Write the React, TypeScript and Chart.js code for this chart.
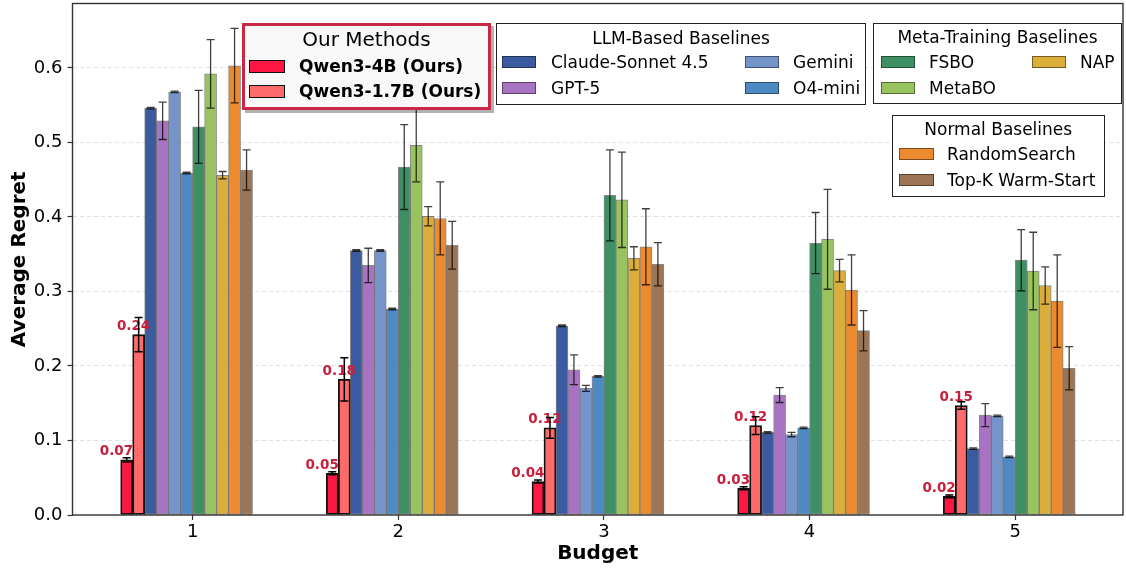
import React, { useEffect, useRef } from 'react';
import { Chart, registerables } from 'chart.js';

Chart.register(...registerables);

// ---------------- data ----------------
const budgets = [1, 2, 3, 4, 5];
const methodNames = [
  'Qwen3-4B (Ours)', 'Qwen3-1.7B (Ours)', 'Claude-Sonnet 4.5', 'GPT-5', 'Gemini', 'O4-mini',
  'FSBO', 'MetaBO', 'NAP', 'RandomSearch', 'Top-K Warm-Start',
];
const methodColors = [
  '#ff1744', '#ff6b6b', '#3c5a9f', '#a873c3', '#7594c9', '#4f89c4',
  '#3f8f64', '#98c35e', '#dbae3c', '#eb8a2f', '#9b7555',
];

const qwen4bMean = [0.074, 0.056, 0.045, 0.036, 0.025];
const qwen4bErr = [0.003, 0.002, 0.002, 0.002, 0.002];
const qwen4bLabels = ['0.07', '0.05', '0.04', '0.03', '0.02'];
const qwen17bMean = [0.242, 0.182, 0.117, 0.12, 0.147];
const qwen17bErr = [0.023, 0.029, 0.014, 0.012, 0.005];
const qwen17bLabels = ['0.24', '0.18', '0.12', '0.12', '0.15'];
const claudeMean = [0.546, 0.355, 0.254, 0.111, 0.089];
const claudeErr = [0.001, 0.001, 0.001, 0.001, 0.001];
const gpt5Mean = [0.529, 0.335, 0.195, 0.161, 0.134];
const gpt5Err = [0.025, 0.023, 0.02, 0.01, 0.0155];
const geminiMean = [0.568, 0.355, 0.17, 0.108, 0.133];
const geminiErr = [0.001, 0.001, 0.004, 0.003, 0.001];
const o4miniMean = [0.459, 0.2765, 0.186, 0.117, 0.078];
const o4miniErr = [0.001, 0.001, 0.001, 0.001, 0.001];
const fsboMean = [0.521, 0.467, 0.429, 0.365, 0.342];
const fsboErr = [0.049, 0.057, 0.061, 0.041, 0.041];
const metaboMean = [0.592, 0.496, 0.423, 0.37, 0.3275];
const metaboErr = [0.046, 0.049, 0.064, 0.067, 0.052];
const napMean = [0.456, 0.401, 0.3445, 0.328, 0.308];
const napErr = [0.005, 0.013, 0.0155, 0.015, 0.025];
const randomMean = [0.603, 0.398, 0.36, 0.302, 0.287];
const randomErr = [0.05, 0.049, 0.051, 0.047, 0.062];
const topkMean = [0.463, 0.362, 0.3365, 0.2474, 0.197];
const topkErr = [0.027, 0.032, 0.029, 0.027, 0.029];

const yTicks = [0, 0.1, 0.2, 0.3, 0.4, 0.5, 0.6];

const seriesMeans = [qwen4bMean, qwen17bMean, claudeMean, gpt5Mean, geminiMean, o4miniMean,
  fsboMean, metaboMean, napMean, randomMean, topkMean];
const seriesErrs = [qwen4bErr, qwen17bErr, claudeErr, gpt5Err, geminiErr, o4miniErr,
  fsboErr, metaboErr, napErr, randomErr, topkErr];
const seriesLabels = [qwen4bLabels, qwen17bLabels];

const BAR_W = 0.0583;
const X_MIN = 0.416;
const X_MAX = 5.524;
const Y_MAX = 0.6865;

const FONT = '"DejaVu Sans", "Liberation Sans", sans-serif';
const LABEL_RED = '#c8203c';

// ---------------- plugins ----------------
const overlayPlugin = {
  id: 'overlay',
  afterDatasetsDraw(chart: any) {
    const ctx = chart.ctx;
    const ys = chart.scales.y;
    // value labels for our methods
    ctx.save();
    ctx.font = `bold 13.5px ${FONT}`;
    ctx.fillStyle = LABEL_RED;
    ctx.textAlign = 'center';
    ctx.textBaseline = 'middle';
    const shift = [0.85, 0.42];
    [0, 1].forEach((i) => {
      const meta = chart.getDatasetMeta(i);
      meta.data.forEach((bar: any, j: number) => {
        ctx.fillText(seriesLabels[i][j], bar.x - shift[i] * bar.width, bar.y - 8);
      });
    });
    ctx.restore();
    // error bars
    chart.data.datasets.forEach((_ds: any, i: number) => {
      const meta = chart.getDatasetMeta(i);
      meta.data.forEach((bar: any, j: number) => {
        const v = seriesMeans[i][j];
        const e = seriesErrs[i][j];
        const yt = ys.getPixelForValue(v + e);
        const yb = ys.getPixelForValue(v - e);
        const x = bar.x;
        ctx.save();
        ctx.strokeStyle = i < 2 ? '#000' : 'rgba(0,0,0,0.75)';
        ctx.lineWidth = i < 2 ? 1.5 : 1.3;
        ctx.beginPath();
        ctx.moveTo(x, yt); ctx.lineTo(x, yb);
        ctx.moveTo(x - 4, yt); ctx.lineTo(x + 4, yt);
        ctx.moveTo(x - 4, yb); ctx.lineTo(x + 4, yb);
        ctx.stroke();
        ctx.restore();
      });
    });
    // frame
    const a = chart.chartArea;
    ctx.save();
    ctx.strokeStyle = '#333';
    ctx.lineWidth = 1.4;
    ctx.strokeRect(a.left, a.top, a.right - a.left, a.bottom - a.top);
    ctx.restore();
  },
};

// ---------------- legend pieces ----------------
const Box = ({ l, t, r, b, style }: any) => (
  <div style={{ position: 'absolute', left: l, top: t, width: r - l, height: b - t, boxSizing: 'border-box', ...style }} />
);
const Patch = ({ l, cy, w, h, color, border }: any) => (
  <div style={{ position: 'absolute', left: l, top: cy - h / 2, width: w, height: h, background: color, border, boxSizing: 'border-box' }} />
);
const Txt = ({ l, cy, text, size, bold }: any) => (
  <div style={{ position: 'absolute', left: l, top: cy - 10, lineHeight: '20px', fontSize: size, fontWeight: bold ? 'bold' : 'normal', whiteSpace: 'nowrap', color: '#000' }}>{text}</div>
);
const Title = ({ l, r, cy, text, size }: any) => (
  <div style={{ position: 'absolute', left: l, width: r - l, top: cy - 12, lineHeight: '24px', fontSize: size, textAlign: 'center', whiteSpace: 'nowrap', color: '#000' }}>{text}</div>
);

const baseBorder = '1px solid rgba(0,0,0,0.45)';

export default function App() {
  const canvasRef = useRef<HTMLCanvasElement>(null);

  useEffect(() => {
    if (!canvasRef.current) return;
    Chart.defaults.font.family = FONT;
    Chart.defaults.color = '#000';
    const datasets = methodNames.map((name, i) => ({
      label: name,
      data: budgets.map((b, j) => ({ x: b + (i - 5.5) * BAR_W, y: seriesMeans[i][j] })),
      backgroundColor: methodColors[i],
      borderColor: i < 2 ? '#111' : 'rgba(40,40,40,0.55)',
      borderWidth: i < 2 ? 1.8 : 1,
      borderSkipped: false,
      grouped: false,
      barPercentage: 1,
      categoryPercentage: 1,
    }));
    const chart = new Chart(canvasRef.current, {
      type: 'bar',
      data: { datasets } as any,
      plugins: [overlayPlugin],
      options: {
        animation: false,
        responsive: false,
        devicePixelRatio: 1,
        layout: { padding: { top: 3.5, right: 3, left: 0, bottom: 0 } },
        plugins: { legend: { display: false }, tooltip: { enabled: false } },
        scales: {
          x: {
            type: 'linear',
            offset: false,
            min: X_MIN,
            max: X_MAX,
            afterBuildTicks: (s: any) => { s.ticks = budgets.map((v) => ({ value: v })); },
            afterFit: (s: any) => { s.height = 55; s.paddingLeft = 0; s.paddingRight = 0; },
            ticks: { font: { size: 18 }, padding: 2, callback: (v: any) => String(v), color: '#000' },
            grid: { display: true, offset: false, drawOnChartArea: false, drawTicks: true, tickLength: 5, tickColor: '#333', tickWidth: 1.2 },
            border: { display: false },
            title: { display: true, text: 'Budget', font: { size: 20, weight: 'bold' }, padding: { top: 0, bottom: 4 }, color: '#000' },
          },
          y: {
            type: 'linear',
            min: 0,
            max: Y_MAX,
            afterBuildTicks: (s: any) => { s.ticks = yTicks.map((v) => ({ value: v })); },
            afterFit: (s: any) => { s.width = 72.5; s.paddingTop = 0; s.paddingBottom = 0; },
            ticks: { font: { size: 18 }, padding: 5, callback: (v: any) => Number(v).toFixed(1), color: '#000' },
            grid: { display: true, drawOnChartArea: true, color: 'rgba(0,0,0,0.12)', lineWidth: 1, drawTicks: true, tickLength: 5, tickColor: '#333', tickWidth: 1.2 },
            border: { display: false, dash: [4, 3] },
            title: { display: true, text: 'Average Regret', font: { size: 20, weight: 'bold' }, padding: { top: 8, bottom: 0 }, color: '#000' },
          },
        },
      } as any,
    });
    return () => chart.destroy();
  }, []);

  return (
    <div style={{ position: 'fixed', left: 0, top: 0, width: 1126, height: 570, background: '#fff', fontFamily: FONT, overflow: 'hidden' }}>
      <canvas ref={canvasRef} width={1126} height={570} style={{ position: 'absolute', left: 0, top: 0, width: 1126, height: 570 }} />

      {/* Our Methods */}
      <Box l={242} t={22.5} r={491} b={109.5} style={{ background: '#f8f8f8', border: '3px solid #c82846', boxShadow: '3px 3px 0 rgba(0,0,0,0.3)' }} />
      <Title l={242} r={491} cy={39} text="Our Methods" size={20} />
      <Patch l={249} cy={66} w={36} h={13} color={methodColors[0]} border="1.5px solid #111" />
      <Txt l={299} cy={66} text={methodNames[0]} size={17} bold />
      <Patch l={249} cy={91} w={36} h={13} color={methodColors[1]} border="1.5px solid #111" />
      <Txt l={299} cy={91} text={methodNames[1]} size={17} bold />

      {/* LLM-Based Baselines */}
      <Box l={496} t={23} r={866} b={104.5} style={{ background: 'rgba(255,255,255,0.95)', border: '1.2px solid #222' }} />
      <Title l={496} r={866} cy={37.7} text="LLM-Based Baselines" size={17} />
      <Patch l={502} cy={62.3} w={34} h={12} color={methodColors[2]} border={baseBorder} />
      <Txt l={551} cy={62.3} text={methodNames[2]} size={17} />
      <Patch l={502} cy={88.3} w={34} h={12} color={methodColors[3]} border={baseBorder} />
      <Txt l={551} cy={88.3} text={methodNames[3]} size={17} />
      <Patch l={745} cy={62.3} w={34} h={12} color={methodColors[4]} border={baseBorder} />
      <Txt l={793} cy={62.3} text={methodNames[4]} size={17} />
      <Patch l={745} cy={88.3} w={34} h={12} color={methodColors[5]} border={baseBorder} />
      <Txt l={793} cy={88.3} text={methodNames[5]} size={17} />

      {/* Meta-Training Baselines */}
      <Box l={873} t={23} r={1122} b={104} style={{ background: 'rgba(255,255,255,0.95)', border: '1.2px solid #222' }} />
      <Title l={873} r={1122} cy={36.7} text="Meta-Training Baselines" size={17} />
      <Patch l={881} cy={62.3} w={34} h={12} color={methodColors[6]} border={baseBorder} />
      <Txt l={929} cy={62.3} text={methodNames[6]} size={17} />
      <Patch l={881} cy={88.3} w={34} h={12} color={methodColors[7]} border={baseBorder} />
      <Txt l={929} cy={88.3} text={methodNames[7]} size={17} />
      <Patch l={1032} cy={62.3} w={34} h={12} color={methodColors[8]} border={baseBorder} />
      <Txt l={1080} cy={62.3} text={methodNames[8]} size={17} />

      {/* Normal Baselines */}
      <Box l={891.5} t={115} r={1105} b={197} style={{ background: 'rgba(255,255,255,0.95)', border: '1.2px solid #222' }} />
      <Title l={891.5} r={1105} cy={129.3} text="Normal Baselines" size={17} />
      <Patch l={899} cy={154.3} w={35} h={12} color={methodColors[9]} border={baseBorder} />
      <Txt l={947} cy={154.3} text={methodNames[9]} size={17} />
      <Patch l={899} cy={179.7} w={35} h={12} color={methodColors[10]} border={baseBorder} />
      <Txt l={947} cy={179.7} text={methodNames[10]} size={17} />
    </div>
  );
}
